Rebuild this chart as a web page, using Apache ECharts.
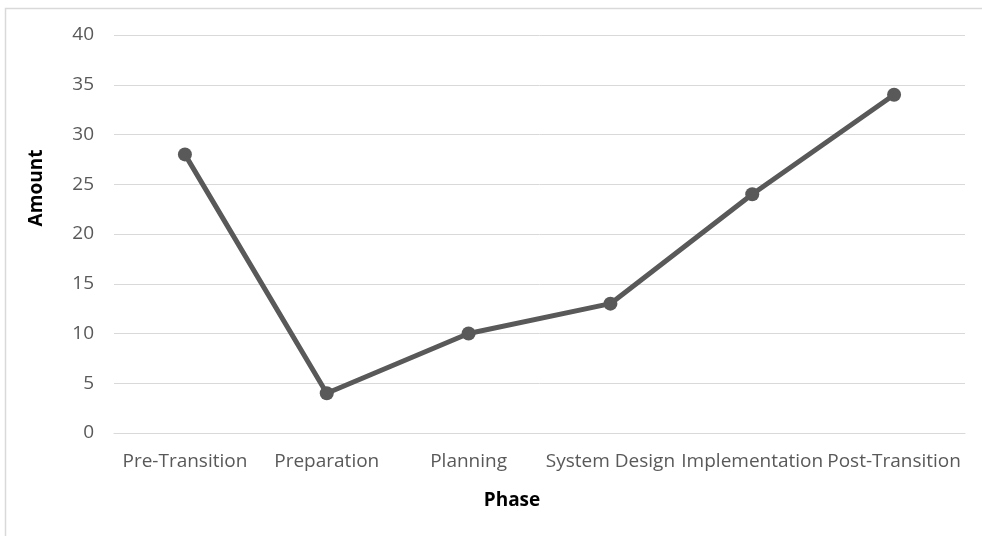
<!DOCTYPE html>
<html>
<head>
<meta charset="utf-8">
<script src="https://cdn.jsdelivr.net/npm/echarts@6/dist/echarts.min.js"></script>
<style>
html,body{margin:0;padding:0;background:#fff;}
#chart{width:982px;height:536px;}
</style>
</head>
<body>
<div id="chart"></div>
<script>
const categories = ['Pre-Transition', 'Preparation', 'Planning', 'System Design', 'Implementation', 'Post-Transition'];
const amounts = [28, 4, 10, 13, 24, 34];
const xTitle = 'Phase';
const yTitle = 'Amount';

const chart = echarts.init(document.getElementById('chart'), null, {renderer: 'canvas'});
const font = '"Open Sans", sans-serif';
chart.setOption({
  animation: false,
  backgroundColor: '#ffffff',
  grid: {left: 114, right: 17, top: 35, bottom: 103, containLabel: false},
  xAxis: {
    type: 'category',
    data: categories,
    boundaryGap: true,
    axisLine: {show: true, lineStyle: {color: '#d9d9d9', width: 1}},
    axisTick: {show: false},
    axisLabel: {color: '#595959', fontFamily: font, fontSize: 19, margin: 19, interval: 0}
  },
  yAxis: {
    type: 'value',
    min: 0, max: 40, interval: 5,
    axisLine: {show: false},
    axisTick: {show: false},
    splitLine: {lineStyle: {color: '#d9d9d9', width: 1}},
    axisLabel: {color: '#595959', fontFamily: font, fontSize: 19, margin: 20}
  },
  graphic: [
    {type: 'rect', shape: {x: 5.5, y: 8.5, width: 1200, height: 1200}, style: {fill: 'none', stroke: '#d9d9d9', lineWidth: 1.5}, silent: true, z: -10},
    {type: 'text', x: 512, y: 501, style: {text: xTitle, font: 'bold 19px ' + font, fill: '#000000', textAlign: 'center', textVerticalAlign: 'middle'}},
    {type: 'text', x: 37, y: 188, rotation: Math.PI / 2, style: {text: yTitle, font: 'bold 19px ' + font, fill: '#000000', textAlign: 'center', textVerticalAlign: 'middle'}}
  ],
  series: [{
    type: 'line',
    data: amounts,
    symbol: 'circle',
    symbolSize: 14,
    lineStyle: {color: '#595959', width: 5},
    itemStyle: {color: '#595959'}
  }]
});
</script>
</body>
</html>
